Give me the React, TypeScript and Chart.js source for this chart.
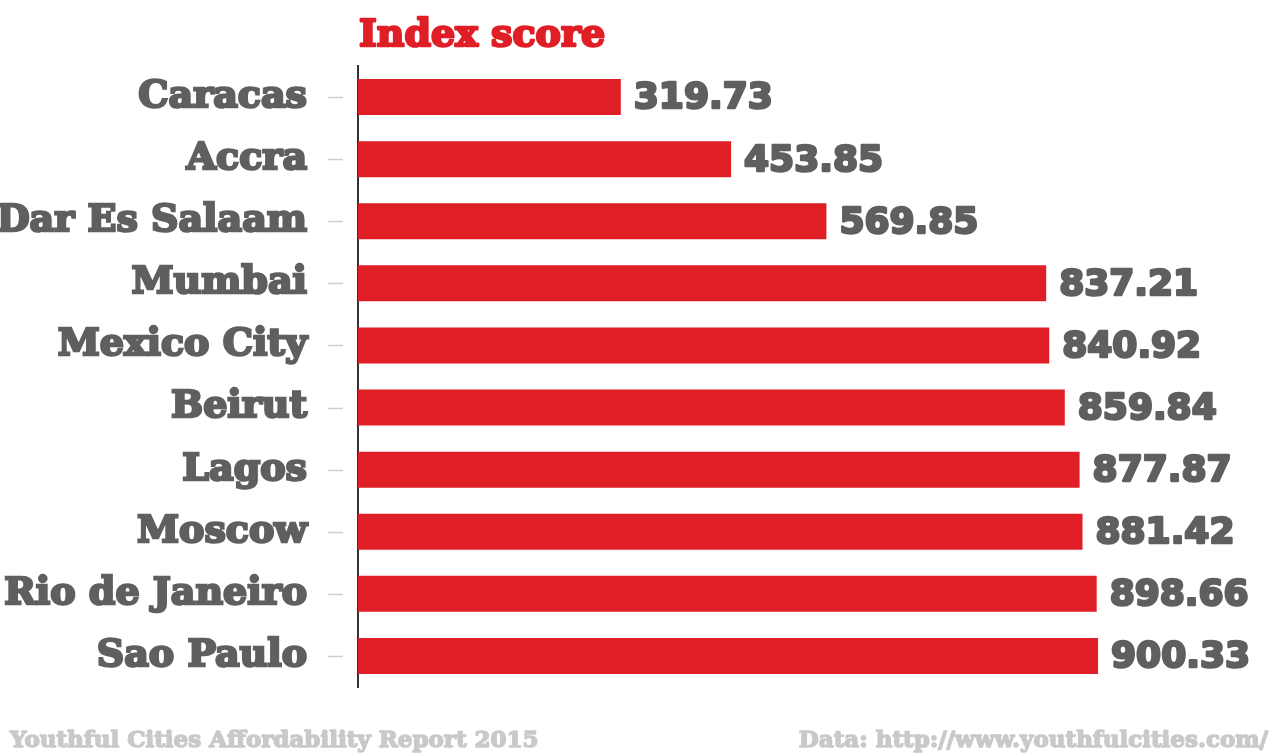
import React, { useEffect, useRef } from "react";
import { Chart, registerables } from "chart.js";

Chart.register(...registerables);

const cities = [
  "Caracas",
  "Accra",
  "Dar Es Salaam",
  "Mumbai",
  "Mexico City",
  "Beirut",
  "Lagos",
  "Moscow",
  "Rio de Janeiro",
  "Sao Paulo",
];
const scores = [319.73, 453.85, 569.85, 837.21, 840.92, 859.84, 877.87, 881.42, 898.66, 900.33];
const titleText = "Index score";
const sourceText = "Youthful Cities Affordability Report 2015";
const dataText = "Data: http://www.youthfulcities.com/";

const RED = "#e01e26";
const GRAY = "#5f5f5f";
const LIGHT = "#c9c9c9";
const LABEL_FONT = "'DejaVu Serif', serif";
const NUM_FONT = "'DejaVu Sans', sans-serif";

function heavyText(ctx: any, text: string, x: number, y: number, color: string, w: number) {
  ctx.fillStyle = color;
  ctx.strokeStyle = color;
  ctx.lineWidth = w;
  ctx.lineJoin = "round";
  ctx.strokeText(text, x, y);
  ctx.fillText(text, x, y);
}

export default function App() {
  const ref = useRef<HTMLCanvasElement | null>(null);

  useEffect(() => {
    if (!ref.current) return;
    const decor = {
      id: "decor",
      afterDraw(chart: any) {
        const ctx = chart.ctx;
        const area = chart.chartArea;
        const y = chart.scales.y;
        const meta = chart.getDatasetMeta(0);
        ctx.save();
        // tick dashes
        ctx.strokeStyle = "#cfcfcf";
        ctx.lineWidth = 1.5;
        cities.forEach((_, i) => {
          const py = Math.round(y.getPixelForValue(i)) + 0.5;
          ctx.beginPath();
          ctx.moveTo(area.left - 30, py);
          ctx.lineTo(area.left - 15, py);
          ctx.stroke();
        });
        // value labels
        ctx.font = `bold 36px ${NUM_FONT}`;
        ctx.textAlign = "left";
        ctx.textBaseline = "middle";
        meta.data.forEach((bar: any, i: number) => {
          heavyText(ctx, scores[i].toFixed(2), bar.x + 13, bar.y + 2, GRAY, 2.5);
        });
        // title
        ctx.font = `bold 38px ${LABEL_FONT}`;
        ctx.textBaseline = "alphabetic";
        heavyText(ctx, titleText, area.left + 1, 46, RED, 2.5);
        // footer
        ctx.font = `bold 23px ${LABEL_FONT}`;
        ctx.textAlign = "left";
        heavyText(ctx, sourceText, 10, 747, LIGHT, 1.5);
        ctx.textAlign = "right";
        heavyText(ctx, dataText, 1268, 747, LIGHT, 1.5);
        ctx.restore();
      },
    };

    const chart = new Chart(ref.current, {
      type: "bar",
      data: {
        labels: cities,
        datasets: [
          {
            data: scores,
            backgroundColor: RED,
            borderWidth: 0,
            barPercentage: 0.58,
            categoryPercentage: 1,
          },
        ],
      },
      options: {
        indexAxis: "y",
        animation: false,
        responsive: false,
        devicePixelRatio: 1,
        layout: { padding: { top: 66, bottom: 67, left: 0, right: 100 } },
        plugins: { legend: { display: false }, tooltip: { enabled: false } },
        scales: {
          x: { display: false, min: 0, max: 1000 },
          y: {
            afterFit: (s: any) => {
              s.width = 358;
              s.paddingTop = 0;
              s.paddingBottom = 0;
            },
            grid: { display: false, drawTicks: false },
            border: { display: true, color: "#333333", width: 2 },
            ticks: {
              padding: 51,
              color: GRAY,
              textStrokeColor: GRAY,
              textStrokeWidth: 2.5,
              font: { family: LABEL_FONT, size: 38, weight: "bold" },
            },
          },
        },
      },
      plugins: [decor],
    });
    return () => chart.destroy();
  }, []);

  return (
    <div style={{ position: "absolute", left: 0, top: 0, width: 1280, height: 754, background: "#fff" }}>
      <canvas ref={ref} width={1280} height={754} />
    </div>
  );
}
